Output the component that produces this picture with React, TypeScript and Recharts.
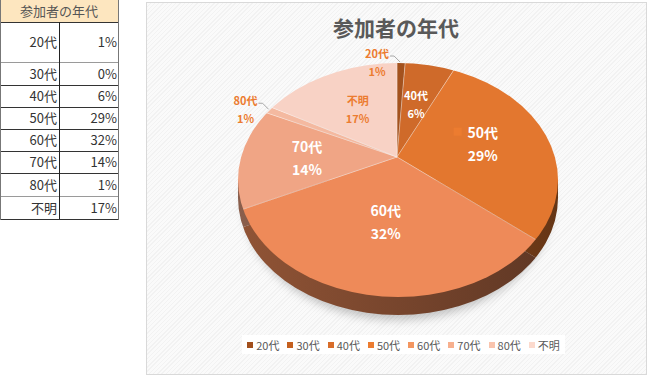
import React from "react";
import { PieChart, Pie, Cell } from "recharts";

// 元データ（表と同じ）
const categories = ["20代", "30代", "40代", "50代", "60代", "70代", "80代", "不明"];
const shares = [1, 0, 6, 29, 32, 14, 1, 17];
const chartTitle = "参加者の年代";

// 色
const faceColors = ["#a4521e", "#c55f22", "#cf6a2a", "#e3772f", "#ee8a59", "#f0a585", "#f4b9a0", "#f8d2c5"];
const legendColors = ["#a24f1c", "#c5601f", "#d86d2a", "#ec7c30", "#f39660", "#f7b08e", "#f9c4ad", "#fcdacd"];
const keyedLabels = ["50代"];
const ORANGE = "#ec7c30";
const FONT = '"Noto Sans CJK JP", "Noto Sans", sans-serif';

// 3D風の楕円ジオメトリ（画面座標）
const APEX_X = 397;
const APEX_Y = 157;
const ELL_X = 398;
const ELL_Y = 180;
const ELL_RX = 160;
const ELL_RY = 117;
const TILT = 0.72;
const DEPTH = 18;

const LAYER_LEFT = 200;
const LAYER_TOP = 40;
const LAYER_W = 400;
const LAYER_H = 400;
const PIE_R = 200;

// 縮小前の座標
const cxPre = APEX_X - LAYER_LEFT;
const cyPre = (APEX_Y - LAYER_TOP) / TILT;
const ellCx = ELL_X - LAYER_LEFT;
const ellCy = (ELL_Y - LAYER_TOP) / TILT;
const ellRy = ELL_RY / TILT;
const depthPre = DEPTH / TILT;

const pieData = categories.map((name, i) => ({ name, value: shares[i] }));

const shade = (hex: string, f: number) => {
  const n = parseInt(hex.slice(1), 16);
  const r = Math.round(((n >> 16) & 255) * f);
  const g = Math.round(((n >> 8) & 255) * f);
  const b = Math.round((n & 255) * f);
  return `rgb(${r},${g},${b})`;
};

const luminance = (hex: string) => {
  const n = parseInt(hex.slice(1), 16);
  return (0.2126 * ((n >> 16) & 255) + 0.7152 * ((n >> 8) & 255) + 0.0722 * (n & 255)) / 255;
};

// 頂点から楕円の縁までの距離
function rayToEdge(dx: number, dy: number) {
  const px = APEX_X - ELL_X;
  const py = APEX_Y - ELL_Y;
  const A = (dx / ELL_RX) ** 2 + (dy / ELL_RY) ** 2;
  const B = 2 * ((px * dx) / ELL_RX ** 2 + (py * dy) / ELL_RY ** 2);
  const C = (px / ELL_RX) ** 2 + (py / ELL_RY) ** 2 - 1;
  return (-B + Math.sqrt(B * B - 4 * A * C)) / (2 * A);
}

function renderLabel(props: any) {
  const { midAngle, index } = props;
  const value = shares[index];
  if (!value) return null;
  const name = categories[index];
  const rad = (-midAngle * Math.PI) / 180;
  const dx = Math.cos(rad);
  const dy = Math.sin(rad) * TILT;
  const t = rayToEdge(dx, dy);

  if (value < 3) {
    // 外側ラベル＋引き出し線
    const bx = APEX_X + t * dx;
    const by = APEX_Y + t * dy;
    const lx = bx - 24;
    const l1 = by - 10;
    const l2 = by + 8;
    return (
      <g key={`lbl-${index}`}>
        <path
          d={`M${lx + 13},${l1 + 3} L${bx - 7},${l1 + 3} L${bx - 1},${by - 1}`}
          fill="none"
          stroke="#a6a6a6"
          strokeWidth={1}
        />
        <text x={lx} y={l1} textAnchor="middle" dominantBaseline="central" fill={ORANGE} fontSize={11} fontWeight={700} fontFamily={FONT}>
          {name}
        </text>
        <text x={lx} y={l2} textAnchor="middle" dominantBaseline="central" fill={ORANGE} fontSize={11} fontWeight={700} fontFamily={FONT}>
          {value}%
        </text>
      </g>
    );
  }

  const dist = Math.min(t * 0.58, 90);
  const x = APEX_X + dist * dx;
  const y = APEX_Y + dist * dy;
  const light = luminance(faceColors[index]) > 0.78;
  const color = light ? ORANGE : "#ffffff";
  const big = !light && value >= 10;
  const size = big ? 14 : 11;
  const gap = big ? 23 : 18;
  return (
    <g key={`lbl-${index}`}>
      {keyedLabels.includes(name) && (
        <rect x={x - 29} y={y - gap / 2 - 4} width={8} height={8} fill={legendColors[index]} />
      )}
      <text x={x} y={y - gap / 2} textAnchor="middle" dominantBaseline="central" fill={color} fontSize={size} fontWeight={700} fontFamily={FONT}>
        {name}
      </text>
      <text x={x} y={y + gap / 2} textAnchor="middle" dominantBaseline="central" fill={color} fontSize={size} fontWeight={700} fontFamily={FONT}>
        {value}%
      </text>
    </g>
  );
}

const rowBounds = [0, 22, 62, 85, 107, 129, 151, 173, 196, 219];

function DataTable() {
  return (
    <div style={{ position: "absolute", left: 0, top: 0, width: 119, height: 220, fontFamily: FONT, color: "#333" }}>
      <div
        style={{
          position: "absolute", left: 0, top: 0, width: 118, height: 22, background: "#fde6bf",
          textAlign: "center", lineHeight: "22px", fontSize: 13, color: "#555",
        }}
      >
        {chartTitle}
      </div>
      {categories.map((c, i) => {
        const top = rowBounds[i + 1];
        const h = rowBounds[i + 2] - top;
        return (
          <div key={c} style={{ position: "absolute", left: 0, top, width: 118, height: h, fontSize: 13 }}>
            <div style={{ position: "absolute", left: 0, width: 57, top: 0, height: h, lineHeight: `${h}px`, textAlign: "right" }}>{c}</div>
            <div style={{ position: "absolute", left: 60, width: 57, top: 0, height: h, lineHeight: `${h}px`, textAlign: "right" }}>{shares[i]}%</div>
          </div>
        );
      })}
      {rowBounds.slice(1).map((y, i) => (
        <div key={i} style={{ position: "absolute", left: 0, top: y, width: 119, height: 1, background: i === 1 || i === 7 ? "#9a9a9a" : "#333" }} />
      ))}
      <div style={{ position: "absolute", left: 59, top: 22, width: 1, height: 197, background: "#222" }} />
      <div style={{ position: "absolute", left: 118, top: 0, width: 1, height: 220, background: "#777" }} />
      <div style={{ position: "absolute", left: 0, top: 0, width: 1, height: 220, background: "#777" }} />
    </div>
  );
}

export default function App() {
  const sidePath =
    `path('M ${ellCx - ELL_RX} ${ellCy} L ${ellCx - ELL_RX} ${ellCy + depthPre} ` +
    `A ${ELL_RX} ${ellRy} 0 0 0 ${ellCx + ELL_RX} ${ellCy + depthPre} L ${ellCx + ELL_RX} ${ellCy} Z')`;

  return (
    <div style={{ position: "absolute", left: 0, top: 0, width: 650, height: 376, overflow: "hidden", background: "#fff" }}>
      <DataTable />

      {/* チャートエリア */}
      <div
        style={{
          position: "absolute", left: 146, top: 2, width: 499, height: 371, border: "1px solid #d9d9d9",
          background: "repeating-linear-gradient(-45deg, #f2f2f2 0px, #f2f2f2 1px, #fafafa 1px, #fafafa 3px)",
        }}
      />
      <div
        style={{
          position: "absolute", left: 146, top: 12, width: 500, textAlign: "center", fontFamily: FONT,
          fontSize: 21, fontWeight: 700, color: "#595959", lineHeight: "31px",
        }}
      >
        {chartTitle}
      </div>

      {/* 影 */}
      <div
        style={{
          position: "absolute", left: ELL_X - ELL_RX + 6, top: ELL_Y - ELL_RY + DEPTH + 5, width: ELL_RX * 2 - 12,
          height: ELL_RY * 2, borderRadius: "50%", background: "rgba(0,0,0,0.22)", filter: "blur(5px)",
        }}
      />

      {/* 側面 */}
      <div
        style={{
          position: "absolute", left: LAYER_LEFT, top: LAYER_TOP, width: LAYER_W, height: LAYER_H,
          transform: `scaleY(${TILT})`, transformOrigin: "0 0", clipPath: sidePath,
        }}
      >
        <PieChart width={LAYER_W} height={LAYER_H} margin={{ top: 0, right: 0, bottom: 0, left: 0 }}>
          <defs>
            {faceColors.map((c, i) => (
              <linearGradient key={i} id={`side-${i}`} x1="0" y1="0" x2="1" y2="0">
                <stop offset="0%" stopColor={shade(c, 0.62)} />
                <stop offset="100%" stopColor={shade(c, 0.4)} />
              </linearGradient>
            ))}
          </defs>
          <Pie
            data={pieData}
            dataKey="value"
            nameKey="name"
            cx={cxPre}
            cy={cyPre + depthPre}
            outerRadius={PIE_R}
            startAngle={90}
            endAngle={-270}
            stroke="none"
            isAnimationActive={false}
          >
            {pieData.map((d, i) => (
              <Cell key={d.name} fill={`url(#side-${i})`} />
            ))}
          </Pie>
        </PieChart>
      </div>

      {/* 上面 */}
      <div
        style={{
          position: "absolute", left: LAYER_LEFT, top: LAYER_TOP, width: LAYER_W, height: LAYER_H,
          transform: `scaleY(${TILT})`, transformOrigin: "0 0",
          clipPath: `ellipse(${ELL_RX}px ${ellRy}px at ${ellCx}px ${ellCy}px)`,
        }}
      >
        <PieChart width={LAYER_W} height={LAYER_H} margin={{ top: 0, right: 0, bottom: 0, left: 0 }}>
          <Pie
            data={pieData}
            dataKey="value"
            nameKey="name"
            cx={cxPre}
            cy={cyPre}
            outerRadius={PIE_R}
            startAngle={90}
            endAngle={-270}
            stroke="rgba(255,255,255,0.35)"
            strokeWidth={1}
            isAnimationActive={false}
          >
            {pieData.map((d, i) => (
              <Cell key={d.name} fill={faceColors[i]} />
            ))}
          </Pie>
        </PieChart>
      </div>

      {/* ラベル */}
      <div style={{ position: "absolute", left: 0, top: 0, width: 650, height: 376 }}>
        <PieChart width={650} height={376} margin={{ top: 0, right: 0, bottom: 0, left: 0 }}>
          <Pie
            data={pieData}
            dataKey="value"
            nameKey="name"
            cx={APEX_X}
            cy={APEX_Y}
            outerRadius={60}
            startAngle={90}
            endAngle={-270}
            fill="transparent"
            stroke="none"
            label={renderLabel}
            labelLine={false}
            isAnimationActive={false}
          >
            {pieData.map((d) => (
              <Cell key={d.name} fill="transparent" stroke="none" />
            ))}
          </Pie>
        </PieChart>
      </div>

      {/* 凡例 */}
      <div
        style={{
          position: "absolute", left: 242, top: 335, width: 323, height: 19, background: "#fff",
          display: "flex", justifyContent: "center", alignItems: "center", gap: 8,
          fontFamily: FONT, fontSize: 11, color: "#595959",
        }}
      >
        {categories.map((c, i) => (
          <div key={c} style={{ display: "flex", alignItems: "center", gap: 3 }}>
            <span style={{ display: "inline-block", width: 6, height: 6, background: legendColors[i] }} />
            <span>{c}</span>
          </div>
        ))}
      </div>
    </div>
  );
}
